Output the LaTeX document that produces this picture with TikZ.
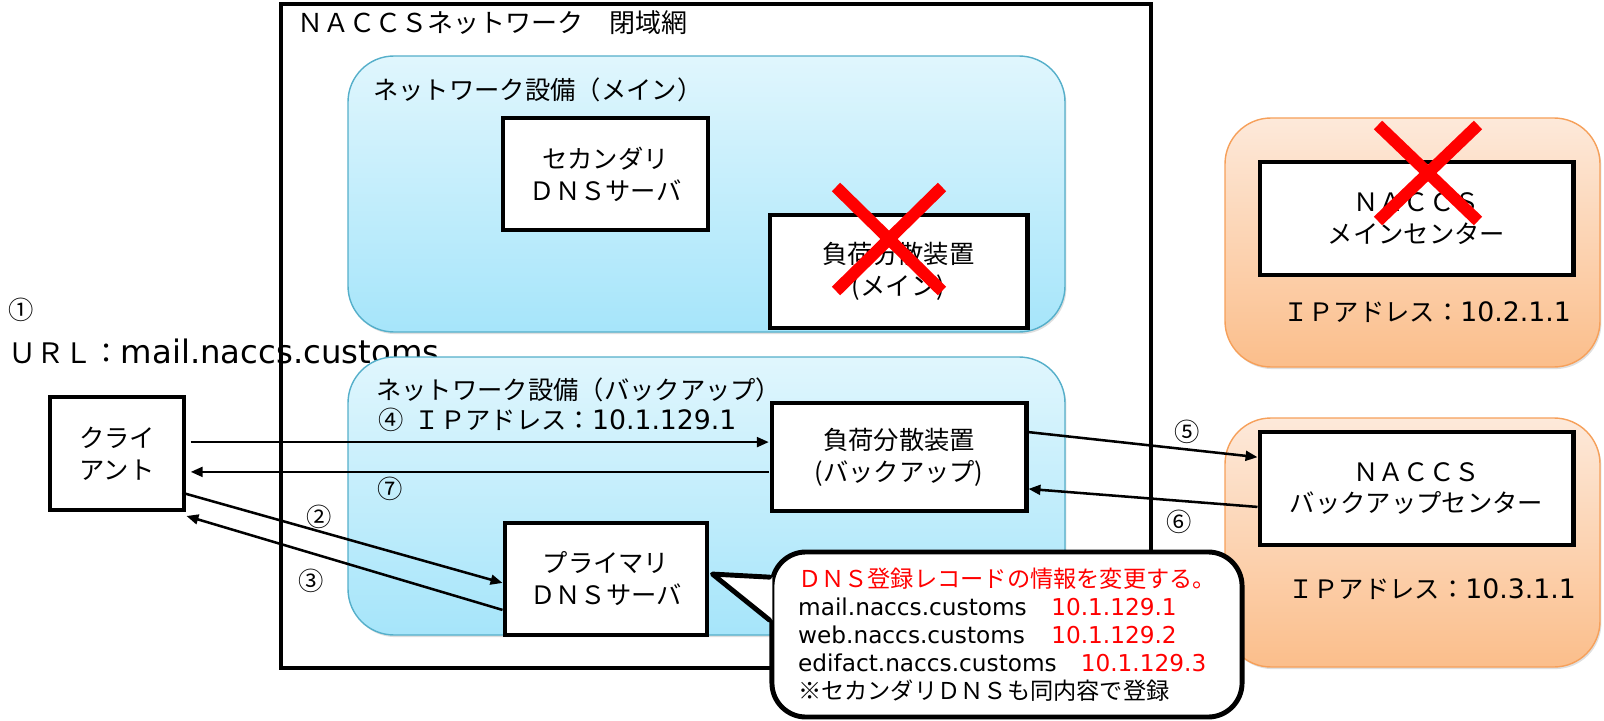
\documentclass[tikz,border=0pt]{standalone}
\usepackage{fontspec}
\setmainfont{Noto Sans CJK JP}
\newfontfamily\lat{DejaVu Sans}
\usetikzlibrary{arrows.meta,shadows}

\definecolor{zonebluetop}{HTML}{E0F6FD}
\definecolor{zonebluebot}{HTML}{A6E5FA}
\definecolor{zoneblueline}{HTML}{55AFCA}
\definecolor{zoneorangetop}{HTML}{FDE9DA}
\definecolor{zoneorangebot}{HTML}{FBBE8B}
\definecolor{zoneorangeline}{HTML}{F6A05A}

\tikzset{
  devbox/.style={draw=black, line width=3.5pt, fill=white, align=center, inner sep=0pt,
    font=\fontsize{18}{22.7}\selectfont},
  zoneblue/.style={draw=zoneblueline, line width=1pt, top color=zonebluetop, bottom color=zonebluebot,
    rounded corners=1.15cm, drop shadow={shadow xshift=1pt, shadow yshift=-1.5pt, opacity=0.25}},
  zoneorange/.style={draw=zoneorangeline, line width=1pt, top color=zoneorangetop, bottom color=zoneorangebot,
    rounded corners=1.15cm, drop shadow={shadow xshift=1pt, shadow yshift=-1.5pt, opacity=0.25}},
  flow/.style={line width=1.8pt, -{Triangle[length=8.5pt, width=7pt]}},
  failx/.style={red, line width=8.5pt},
  lbl/.style={inner sep=0pt, font=\fontsize{18}{22}\selectfont},
}

\begin{document}
\begin{tikzpicture}[x=0.025cm, y=-0.025cm]
	%%%%% START %%%%%
	\useasboundingbox (0,0) rectangle (1604,721);
	
	\node[lbl] (n1) at (21,310) {①};
	\node[lbl, anchor=west, font=\fontsize{20}{24}\selectfont] (url) at (8,351) {ＵＲＬ：{\lat\fontsize{23}{24}\selectfont mail.naccs.customs}};
	\node[devbox, minimum width=3.35cm, minimum height=2.825cm] (client) at (117,453.5) {クライ\\アント};
	
	\draw[line width=3.5pt] (281,4) rectangle (1151,668);
	\node[lbl, anchor=west, font=\fontsize{18.5}{22}\selectfont] (ttl) at (297,23) {ＮＡＣＣＳネットワーク　閉域網};
	
	\draw[zoneblue] (348,56) rectangle (1065,332);
	\node[lbl, anchor=west] (zmain) at (373,90) {ネットワーク設備（メイン）};
	\node[devbox, minimum width=5.125cm, minimum height=2.8cm] (sdns) at (605.5,174) {セカンダリ\\ＤＮＳサーバ};
	\node[devbox, minimum width=6.425cm, minimum height=2.825cm] (lbm) at (898.5,271.5) {負荷分散装置\\(メイン)};
	\draw[failx] (836,187) -- (942,291) (942,187) -- (836,291);
	
	\draw[zoneblue] (348,357) rectangle (1065,635);
	\node[lbl, anchor=west] (zback) at (376,390) {ネットワーク設備（バックアップ）};
	\node[lbl, anchor=west] (ipb) at (378,420) {④\hspace{8pt}ＩＰアドレス：{\lat\fontsize{19}{22}\selectfont 10.1.129.1}};
	\node[devbox, minimum width=6.35cm, minimum height=2.7cm] (lbb) at (899,457) {負荷分散装置\\(バックアップ)};
	\node[devbox, minimum width=5.05cm, minimum height=2.8cm] (pdns) at (606,579) {プライマリ\\ＤＮＳサーバ};
	
	\draw[zoneorange] (1225,118) rectangle (1600,367);
	\node[devbox, minimum width=7.825cm, minimum height=2.825cm] (mainc) at (1416.5,218.5) {ＮＡＣＣＳ\\メインセンター};
	\node[lbl, anchor=west] (ipm) at (1283,312) {ＩＰアドレス：{\lat\fontsize{19}{22}\selectfont 10.2.1.1}};
	\draw[failx] (1378,125) -- (1478,221) (1478,125) -- (1378,221);
	
	\draw[zoneorange] (1225,418) rectangle (1600,667);
	\node[devbox, minimum width=7.825cm, minimum height=2.825cm] (bakc) at (1416.5,488.5) {ＮＡＣＣＳ\\バックアップセンター};
	\node[lbl, anchor=west] (ipc) at (1288,589) {ＩＰアドレス：{\lat\fontsize{19}{22}\selectfont 10.3.1.1}};
	
	\coordinate (in4) at ([yshift=10.6pt]lbb.west);
	\coordinate (out7) at ([yshift=-10.6pt]lbb.west);
	\draw[flow, shorten <=3pt, shorten >=0.5pt] (client.east |- in4) -- (in4);
	\draw[flow, shorten <=0.5pt, shorten >=3pt] (out7) -- (client.east |- out7);
	\draw[flow] ([shift={(-3pt,14pt)}]client.south east) -- ([yshift=-2.8pt]pdns.west);
	\draw[flow] ([yshift=-22pt]pdns.west) -- ([yshift=-2.5pt]client.south east);
	\draw[flow] ([yshift=17.7pt]lbb.east) -- ([yshift=22.3pt]bakc.west);
	\draw[flow] ([yshift=-13.1pt]bakc.west) -- ([yshift=-22.7pt]lbb.east);
	
	\node[lbl] (n2) at (319,517) {②};
	\node[lbl] (n3) at (311,581) {③};
	\node[lbl] (n5) at (1187,432) {⑤};
	\node[lbl] (n6) at (1179,522) {⑥};
	\node[lbl] (n7) at (390,489) {⑦};
	
	\node[draw, line width=3.5pt, fill=white, rounded corners=0.85cm, minimum width=11.75cm, minimum height=4.125cm,
		align=left, inner sep=0pt, font=\fontsize{16.5}{20}\selectfont] (note) at (1007,634.5)
		{{\color{red}ＤＮＳ登録レコードの情報を変更する。}\\
		\makebox[180pt][l]{\lat mail.naccs.customs}{\lat\color{red}10.1.129.1}\\
		\makebox[180pt][l]{\lat web.naccs.customs}{\lat\color{red}10.1.129.2}\\
		\makebox[201pt][l]{\lat edifact.naccs.customs}{\lat\color{red}10.1.129.3}\\
		※セカンダリＤＮＳも同内容で登録};
	\coordinate (tip) at ([shift={(2.1pt,3.5pt)}]pdns.east);
	\fill[white] ([yshift=40.8pt]note.west) -- (tip) -- ([yshift=10.3pt]note.west)
		-- ([shift={(2pt,10.3pt)}]note.west) -- ([shift={(2pt,40.8pt)}]note.west) -- cycle;
	\draw[line width=3.5pt, line join=round, line cap=round] ([yshift=40.8pt]note.west) -- (tip) -- ([yshift=10.3pt]note.west);
	
	%%%%% END %%%%%
\end{tikzpicture}
\end{document}
